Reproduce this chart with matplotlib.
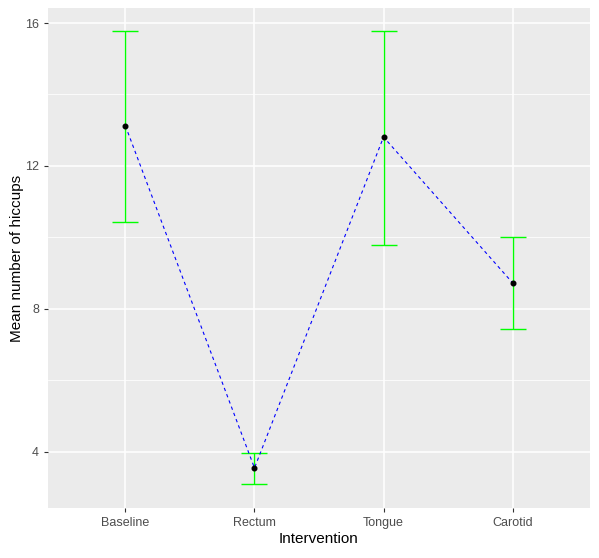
import matplotlib.pyplot as plt
import numpy as np

plt.rcParams['font.family'] = ['Liberation Sans', 'DejaVu Sans']

# values
interventions = ['Baseline', 'Rectum', 'Tongue', 'Carotid']
mean_hiccups = [13.12, 3.55, 12.81, 8.73]
ci_lower = [10.43, 3.10, 9.79, 7.44]
ci_upper = [15.78, 3.97, 15.78, 10.01]

fig = plt.figure(figsize=(5.99, 5.58), dpi=100)
ax = fig.add_axes([48 / 599, 50 / 558, 542 / 599, 500 / 558])

x = np.arange(1, len(interventions) + 1)
mean = np.array(mean_hiccups)
lo = np.array(ci_lower)
hi = np.array(ci_upper)

ax.set_facecolor('#EBEBEB')
for s in ax.spines.values():
    s.set_visible(False)

# minor grid lines (ggplot style)
for v in [6, 10, 14]:
    ax.axhline(v, color='white', lw=0.55, zorder=0)
for v in [4, 8, 12, 16]:
    ax.axhline(v, color='white', lw=1.1, zorder=0)
for v in x:
    ax.axvline(v, color='white', lw=1.1, zorder=0)

ax.errorbar(x, mean, yerr=[mean - lo, hi - mean], fmt='none', ecolor='#00FF00',
            elinewidth=1.0, capsize=9.3, capthick=1.0, zorder=2)
ax.plot(x, mean, color='blue', ls=(0, (3, 3)), lw=0.8, zorder=3)
ax.scatter(x, mean, color='black', s=11, zorder=4)

ax.set_xlim(0.4, 4.6)
ax.set_ylim(2.43, 16.42)
ax.set_xticks(x)
ax.set_xticklabels(interventions)
ax.set_yticks([4, 8, 12, 16])
ax.tick_params(colors='#333333', length=3, width=0.8, labelcolor='#4D4D4D', labelsize=9)
ax.set_xlabel('Intervention', fontsize=11, labelpad=2)
ax.set_ylabel('Mean number of hiccups', fontsize=11, labelpad=1)

fig.savefig('out.png', dpi=100, facecolor='white')
